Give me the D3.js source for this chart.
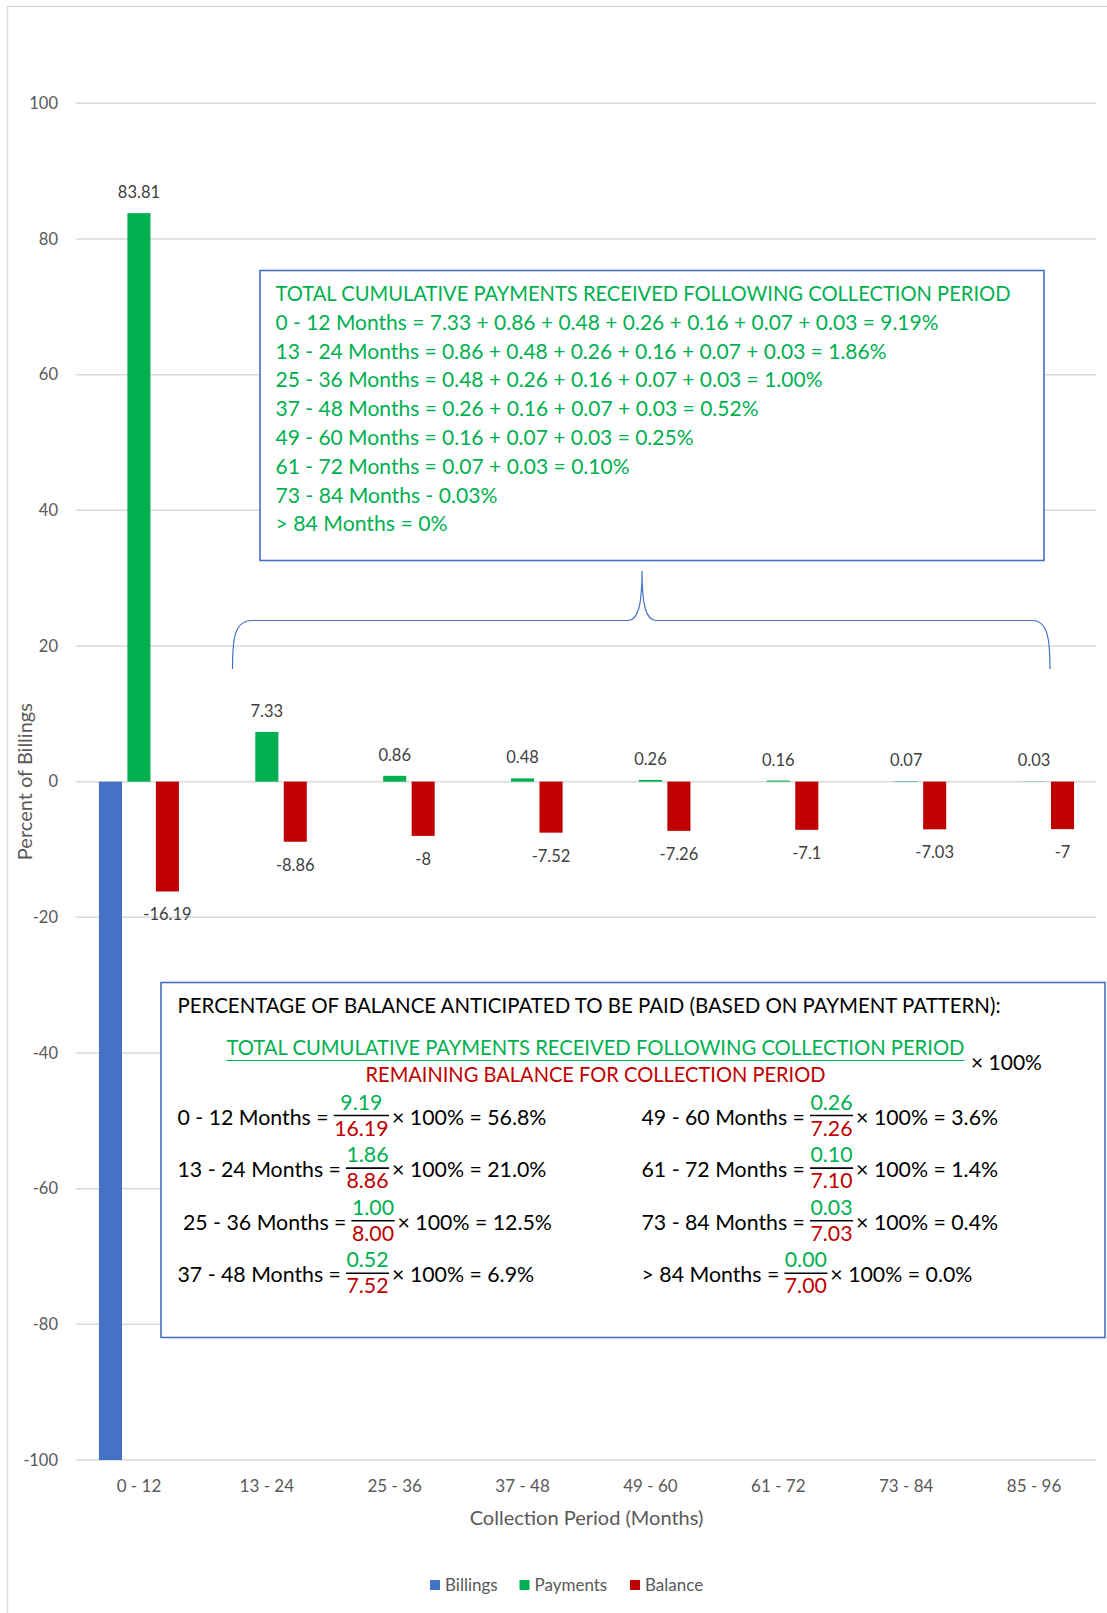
<!DOCTYPE html>
<html>
<head>
<meta charset="utf-8">
<script src="https://cdn.jsdelivr.net/npm/d3@7"></script>
<style>
  body { margin: 0; background: #fff; }
  svg { display: block; font-family: Lato, "Open Sans", sans-serif; }
</style>
</head>
<body>
<svg id="chart" width="1107" height="1613"></svg>
<script>
"use strict";

// valeurs
var categories = ["0 - 12", "13 - 24", "25 - 36", "37 - 48", "49 - 60", "61 - 72", "73 - 84", "85 - 96"];
var billings = [-100, 0, 0, 0, 0, 0, 0, 0];
var payments = [83.81, 7.33, 0.86, 0.48, 0.26, 0.16, 0.07, 0.03];
var balance = [-16.19, -8.86, -8, -7.52, -7.26, -7.1, -7.03, -7];
var yTicks = [-100, -80, -60, -40, -20, 0, 20, 40, 60, 80, 100];
var seriesNames = ["Billings", "Payments", "Balance"];
var seriesColors = ["#4472c4", "#00b050", "#c00000"];

// textes des encadrés
var topTitle = "TOTAL CUMULATIVE PAYMENTS RECEIVED FOLLOWING COLLECTION PERIOD";
var topLines = [
  "0 - 12 Months = 7.33 + 0.86 + 0.48 + 0.26 + 0.16 + 0.07 + 0.03 = 9.19%",
  "13 - 24 Months = 0.86 + 0.48 + 0.26 + 0.16 + 0.07 + 0.03 = 1.86%",
  "25 - 36 Months = 0.48 + 0.26 + 0.16 + 0.07 + 0.03 = 1.00%",
  "37 - 48 Months = 0.26 + 0.16 + 0.07 + 0.03 = 0.52%",
  "49 - 60 Months = 0.16 + 0.07 + 0.03 = 0.25%",
  "61 - 72 Months = 0.07 + 0.03 = 0.10%",
  "73 - 84 Months - 0.03%",
  "> 84 Months = 0%"
];
var topWidths = [735, 663, 611, 547, 483, 418, 354, 222, 172];

var bottomTitle = "PERCENTAGE OF BALANCE ANTICIPATED TO BE PAID (BASED ON PAYMENT PATTERN):";
var formulaNum = "TOTAL CUMULATIVE PAYMENTS RECEIVED FOLLOWING COLLECTION PERIOD";
var formulaDen = "REMAINING BALANCE FOR COLLECTION PERIOD";
var rowLabels = ["0 - 12 Months =", "13 - 24 Months =", " 25 - 36 Months =", "37 - 48 Months =",
                 "49 - 60 Months =", "61 - 72 Months =", "73 - 84 Months =", "> 84 Months ="];
var rowNum = ["9.19", "1.86", "1.00", "0.52", "0.26", "0.10", "0.03", "0.00"];
var rowDen = ["16.19", "8.86", "8.00", "7.52", "7.26", "7.10", "7.03", "7.00"];
var rowResult = ["56.8%", "21.0%", "12.5%", "6.9%", "3.6%", "1.4%", "0.4%", "0.0%"];

var svg = d3.select("#chart");
var W = 1107, H = 1613;

// cadre du graphique
svg.append("rect")
  .attr("x", 7.5).attr("y", 6.5)
  .attr("width", W + 20).attr("height", H + 20)
  .attr("fill", "white")
  .attr("stroke", "#d9d9d9")
  .attr("stroke-width", 1.3);

var plot = { left: 75, right: 1098, top: 103.3, bottom: 1460 };

var y = d3.scaleLinear().domain([-100, 100]).range([plot.bottom, plot.top]);
var x0 = d3.scaleBand().domain(categories).range([plot.left, plot.right]);
var x1 = d3.scaleBand().domain(seriesNames).range([-40, 40]).paddingInner(0.19);

// lignes de grille
svg.append("g")
  .selectAll("line")
  .data(yTicks)
  .enter()
  .append("line")
  .attr("x1", plot.left + 1)
  .attr("x2", plot.right - 2)
  .attr("y1", function (d) { return y(d); })
  .attr("y2", function (d) { return y(d); })
  .attr("stroke", "#d9d9d9")
  .attr("stroke-width", 1.5);

// axe Y (tiret simple comme dans Excel)
var yAxis = svg.append("g")
  .attr("transform", "translate(58,0)")
  .call(d3.axisLeft(y).tickValues(yTicks).tickSize(0).tickPadding(0)
    .tickFormat(function (d) { return String(d); }));
yAxis.select(".domain").remove();
yAxis.selectAll("text")
  .style("font-family", "Lato, sans-serif")
  .style("font-size", "16.5px")
  .attr("fill", "#595959");

// axe X (libellés en bas)
var xAxis = svg.append("g")
  .attr("transform", "translate(0," + (plot.bottom + 20) + ")")
  .call(d3.axisBottom(x0).tickSize(0).tickPadding(0));
xAxis.select(".domain").remove();
xAxis.selectAll("text")
  .style("font-family", "Lato, sans-serif")
  .style("font-size", "17px")
  .attr("fill", "#595959");

// titres des axes
svg.append("text")
  .attr("x", (plot.left + plot.right) / 2)
  .attr("y", 1525)
  .attr("text-anchor", "middle")
  .style("font-size", "20px")
  .attr("fill", "#595959")
  .text("Collection Period (Months)");

svg.append("text")
  .attr("transform", "translate(32," + ((plot.top + plot.bottom) / 2) + ") rotate(-90)")
  .attr("text-anchor", "middle")
  .style("font-size", "20px")
  .attr("fill", "#595959")
  .text("Percent of Billings");

// barres
var table = categories.map(function (c, i) {
  return { cat: c, values: [billings[i], payments[i], balance[i]] };
});

var groups = svg.append("g")
  .selectAll("g")
  .data(table)
  .enter()
  .append("g")
  .attr("transform", function (d) {
    return "translate(" + (x0(d.cat) + x0.bandwidth() / 2) + ",0)";
  });

groups.selectAll("rect")
  .data(function (d) {
    return d.values.map(function (v, k) { return { name: seriesNames[k], value: v, k: k }; });
  })
  .enter()
  .append("rect")
  .attr("x", function (d) { return x1(d.name); })
  .attr("width", x1.bandwidth())
  .attr("y", function (d) { return y(Math.max(0, d.value)); })
  .attr("height", function (d) { return Math.abs(y(d.value) - y(0)); })
  .attr("fill", function (d) { return seriesColors[d.k]; });

// étiquettes des barres (paiements et solde)
groups.selectAll("text")
  .data(function (d) {
    return [{ name: "Payments", value: d.values[1] }, { name: "Balance", value: d.values[2] }];
  })
  .enter()
  .append("text")
  .attr("x", function (d) { return x1(d.name) + x1.bandwidth() / 2; })
  .attr("y", function (d) {
    return d.value >= 0 ? y(d.value) - 15 : y(d.value) + 29;
  })
  .attr("text-anchor", "middle")
  .style("font-size", "16.5px")
  .attr("fill", "#404040")
  .text(function (d) { return d.value; });

// accolade
svg.append("path")
  .attr("d", "M232.5,669 C232.5,640 234,620.5 252,620.5 L628,620.5 C638,620.5 642,605 642,571 " +
             "C642,605 646,620.5 656,620.5 L1032,620.5 C1048,620.5 1050,640 1050,669")
  .attr("fill", "none")
  .attr("stroke", "#4472c4")
  .attr("stroke-width", 1.2);

// encadré du haut
var green = "#00b050", red = "#c00000";
var topBox = svg.append("g");
topBox.append("rect")
  .attr("x", 260).attr("y", 270.5)
  .attr("width", 784).attr("height", 290)
  .attr("fill", "white")
  .attr("stroke", "#4472c4")
  .attr("stroke-width", 1.6);

topBox.selectAll("text")
  .data([topTitle].concat(topLines))
  .enter()
  .append("text")
  .attr("x", 275.5)
  .attr("y", function (d, i) { return 301 + i * 28.8; })
  .attr("textLength", function (d, i) { return topWidths[i]; })
  .attr("lengthAdjust", "spacingAndGlyphs")
  .style("font-size", "20.5px")
  .attr("fill", green)
  .text(function (d) { return d; });

// encadré du bas
var botBox = svg.append("g");
botBox.append("rect")
  .attr("x", 161).attr("y", 982.5)
  .attr("width", 944).attr("height", 355)
  .attr("fill", "white")
  .attr("stroke", "#4472c4")
  .attr("stroke-width", 1.6);

botBox.append("text")
  .attr("x", 177.5).attr("y", 1013)
  .attr("textLength", 823).attr("lengthAdjust", "spacingAndGlyphs")
  .style("font-size", "20.5px").attr("fill", "#000")
  .text(bottomTitle);

botBox.append("text")
  .attr("x", 226.5).attr("y", 1055)
  .attr("textLength", 738).attr("lengthAdjust", "spacingAndGlyphs")
  .style("font-size", "20.5px").attr("fill", green)
  .text(formulaNum);
botBox.append("line")
  .attr("x1", 226.5).attr("x2", 964.5)
  .attr("y1", 1060.5).attr("y2", 1060.5)
  .attr("stroke", green).attr("stroke-width", 1.2);
botBox.append("text")
  .attr("x", 365.5).attr("y", 1082)
  .attr("textLength", 460).attr("lengthAdjust", "spacingAndGlyphs")
  .style("font-size", "20.5px").attr("fill", red)
  .text(formulaDen);
botBox.append("text")
  .attr("x", 971).attr("y", 1069.5)
  .style("font-size", "21px").attr("fill", "#000")
  .text("\u00d7 100%");

// lignes de calcul, deux colonnes
var rowFont = 21.3;
rowLabels.forEach(function (lab, i) {
  var col = i < 4 ? 0 : 1;
  var r = i % 4;
  var baseX = col === 0 ? 177.5 : 641.5;
  var midY = 1115.5 + r * 52.6;
  var row = botBox.append("g");

  var t1 = row.append("text")
    .attr("x", baseX).attr("y", midY + 9)
    .attr("xml:space", "preserve")
    .style("white-space", "pre")
    .style("font-size", rowFont + "px").attr("fill", "#000")
    .text(lab);
  var fx = baseX + t1.node().getComputedTextLength() + 5;

  var num = row.append("text")
    .style("font-size", rowFont + "px").attr("fill", green)
    .attr("y", midY - 6).attr("text-anchor", "middle")
    .text(rowNum[i]);
  var den = row.append("text")
    .style("font-size", rowFont + "px").attr("fill", red)
    .attr("y", midY + 20).attr("text-anchor", "middle")
    .text(rowDen[i]);
  var fw = Math.max(num.node().getComputedTextLength(), den.node().getComputedTextLength()) + 1;
  num.attr("x", fx + fw / 2);
  den.attr("x", fx + fw / 2);
  row.append("line")
    .attr("x1", fx).attr("x2", fx + fw)
    .attr("y1", midY).attr("y2", midY)
    .attr("stroke", "#000").attr("stroke-width", 1.6);

  row.append("text")
    .attr("x", fx + fw + 3).attr("y", midY + 9)
    .style("font-size", rowFont + "px").attr("fill", "#000")
    .text("\u00d7 100% = " + rowResult[i]);
});

// légende
var legend = svg.append("g")
  .attr("class", "legend")
  .attr("transform", "translate(430,1585)")
  .style("font-size", "17px");

var legendX = [0, 89.5, 200];
legend.selectAll("rect")
  .data(seriesNames)
  .enter()
  .append("rect")
  .attr("x", function (d, i) { return legendX[i]; })
  .attr("y", -5)
  .attr("width", 10)
  .attr("height", 10)
  .attr("fill", function (d, i) { return seriesColors[i]; });

legend.selectAll("text")
  .data(seriesNames)
  .enter()
  .append("text")
  .attr("x", function (d, i) { return legendX[i] + 15; })
  .attr("y", 6)
  .attr("fill", "#595959")
  .text(function (d) { return d; });
</script>
</body>
</html>
